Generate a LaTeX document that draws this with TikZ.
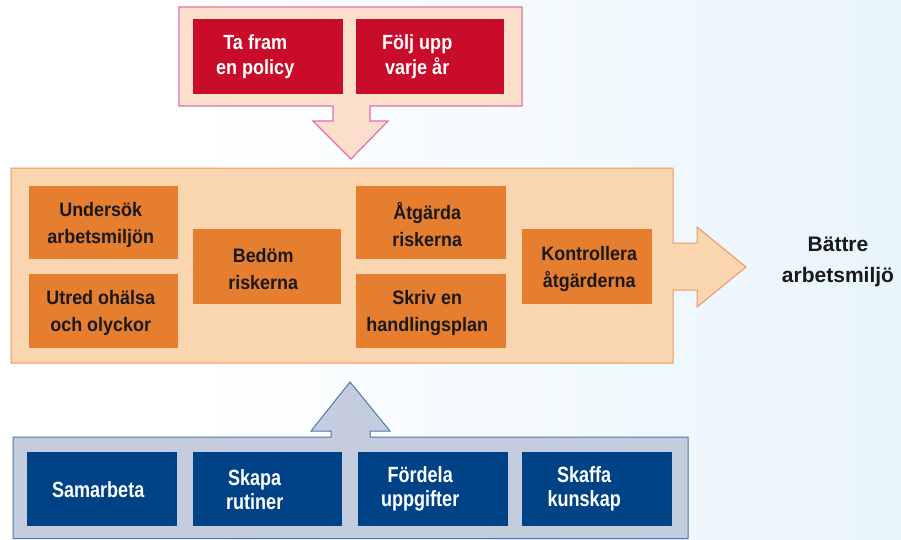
\documentclass[tikz,border=0pt]{standalone}
\usepackage{fontspec}
\setmainfont{Liberation Sans}
\newfontfamily\midf[FakeStretch=0.92]{Liberation Sans}
\newfontfamily\botf[FakeStretch=0.82]{Liberation Sans}
\newfontfamily\topf[FakeStretch=0.88]{Liberation Sans}
\definecolor{bgblue}{RGB}{218,238,250}
\definecolor{redbox}{RGB}{200,12,42}
\definecolor{topfill}{RGB}{252,222,205}
\definecolor{topline}{RGB}{228,110,170}
\definecolor{midfill}{RGB}{250,214,176}
\definecolor{midline}{RGB}{236,150,100}
\definecolor{orangebox}{RGB}{230,126,48}
\definecolor{botfill}{RGB}{196,205,222}
\definecolor{botline}{RGB}{80,118,170}
\definecolor{navybox}{RGB}{0,66,134}
\definecolor{darktext}{RGB}{25,25,25}
\pgfdeclarehorizontalshading{bgsh}{100bp}{color(0bp)=(white); color(35bp)=(white); color(100bp)=(bgblue)}
\tikzset{
  boxbase/.style={inner sep=0pt, anchor=north west},
  rbox/.style={boxbase, fill=redbox},
  obox/.style={boxbase, fill=orangebox},
  nbox/.style={boxbase, fill=navybox},
  rtext/.style={inner sep=0pt, align=center, text=white,
    font=\topf\bfseries\fontsize{20.5}{25}\selectfont},
  otext/.style={inner sep=0pt, align=center, text=darktext,
    font=\midf\bfseries\fontsize{19.5}{27}\selectfont},
  ntext/.style={inner sep=0pt, align=center, text=white,
    font=\botf\bfseries\fontsize{22}{24}\selectfont},
  container/.style={line width=1.2pt, line join=miter}
}
\begin{document}
\begin{tikzpicture}[x=1pt,y=-1pt]
\useasboundingbox (0,0) rectangle (901,539);
\shade[shading=bgsh] (0,0) rectangle (901,539);

% top container with down arrow
\draw[container, draw=topline, fill=topfill]
  (179,7) -- (522,7) -- (522,106) -- (370,106) -- (370,121) -- (388,121)
  -- (351,159) -- (313,121) -- (333,121) -- (333,106) -- (179,106) -- cycle;
\node[rbox, minimum width=150pt, minimum height=75pt] (t1) at (193,19) {};
\node[rbox, minimum width=148pt, minimum height=75pt] (t2) at (356,19) {};
\node[rtext] (t1x) at ([xshift=-13pt]t1.center) {Ta fram\\en policy};
\node[rtext] (t2x) at ([xshift=-13pt]t2.center) {Följ upp\\varje år};

% middle container with right arrow
\draw[container, line width=1pt, draw=midline, fill=midfill]
  (11,168) -- (673,168) -- (673,243) -- (697,243) -- (697,227) -- (746,267)
  -- (697,307) -- (697,290) -- (673,290) -- (673,363) -- (11,363) -- cycle;
\node[obox, minimum width=149pt, minimum height=73pt] (u1) at (29,186) {};
\node[obox, minimum width=149pt, minimum height=74pt] (u2) at (29,274) {};
\node[obox, minimum width=148pt, minimum height=75pt] (b) at (193,229) {};
\node[obox, minimum width=150pt, minimum height=73pt] (a1) at (356,186) {};
\node[obox, minimum width=150pt, minimum height=74pt] (a2) at (356,274) {};
\node[obox, minimum width=130pt, minimum height=75pt] (k) at (522,229) {};
\node[otext] (u1x) at ([xshift=-3pt,yshift=-2pt]u1.center) {Undersök\\arbetsmiljön};
\node[otext] (u2x) at ([xshift=-3pt,yshift=-2pt]u2.center) {Utred ohälsa\\och olyckor};
\node[otext] (bx) at ([xshift=-4pt,yshift=-2pt]b.center) {Bedöm\\riskerna};
\node[otext] (a1x) at ([xshift=-4pt,yshift=-2pt]a1.center) {Åtgärda\\riskerna};
\node[otext] (a2x) at ([xshift=-4pt,yshift=-2pt]a2.center) {Skriv en\\handlingsplan};
\node[otext] (kx) at ([xshift=2pt,yshift=-2pt]k.center) {Kontrollera\\åtgärderna};

\node[align=center, text=darktext, font=\bfseries\fontsize{21}{31}\selectfont] (res) at (838,262) {Bättre\\arbetsmiljö};

% bottom container with up arrow
\draw[container, line width=1pt, draw=botline, fill=botfill]
  (13,538.5) -- (13,437) -- (331,437) -- (331,431) -- (311,431) -- (350,382)
  -- (390,431) -- (370,431) -- (370,437) -- (688,437) -- (688,538.5) -- cycle;
\node[nbox, minimum width=150pt, minimum height=74pt] (n1) at (27,452) {};
\node[nbox, minimum width=149pt, minimum height=74pt] (n2) at (193,452) {};
\node[nbox, minimum width=150pt, minimum height=74pt] (n3) at (358,452) {};
\node[nbox, minimum width=150pt, minimum height=74pt] (n4) at (522,452) {};
\node[ntext] (n1x) at ([xshift=-4pt]n1.center) {Samarbeta};
\node[ntext] (n2x) at ([xshift=-13pt]n2.center) {Skapa\\rutiner};
\node[ntext] (n3x) at ([xshift=-13pt]n3.center) {Fördela\\uppgifter};
\node[ntext] (n4x) at ([xshift=-13pt]n4.center) {Skaffa\\kunskap};
\end{tikzpicture}
\end{document}
